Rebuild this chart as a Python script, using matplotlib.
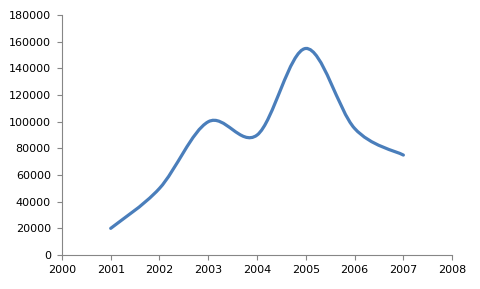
import matplotlib.pyplot as plt
from matplotlib.path import Path
from matplotlib.patches import PathPatch

years = [2001, 2002, 2003, 2004, 2005, 2006, 2007]
values = [20000, 50000, 100000, 90000, 155000, 95000, 75000]

fig = plt.figure(figsize=(4.8, 2.89), dpi=100)
ax = fig.add_axes([0.129, 0.1176, 0.813, 0.830])

ax.set_xlim(2000, 2008)
ax.set_ylim(0, 180000)
ax.set_xticks(range(2000, 2009))
ax.set_yticks(range(0, 180001, 20000))

# smoothed line like Excel: cubic bezier through the points
pts = list(zip(years, values))
verts = [pts[0]]
codes = [Path.MOVETO]
n = len(pts)
for i in range(n - 1):
    p0 = pts[i - 1] if i > 0 else pts[i]
    p1 = pts[i]
    p2 = pts[i + 1]
    p3 = pts[i + 2] if i + 2 < n else pts[i + 1]
    c1 = (p1[0] + (p2[0] - p0[0]) / 6, p1[1] + (p2[1] - p0[1]) / 6)
    c2 = (p2[0] - (p3[0] - p1[0]) / 6, p2[1] - (p3[1] - p1[1]) / 6)
    verts += [c1, c2, p2]
    codes += [Path.CURVE4] * 3
ax.add_patch(PathPatch(Path(verts, codes), facecolor='none',
                       edgecolor='#4a7ebb', lw=2.3, capstyle='round'))

for s in ['top', 'right']:
    ax.spines[s].set_visible(False)
for s in ['left', 'bottom']:
    ax.spines[s].set_color('#868686')
    ax.spines[s].set_linewidth(0.8)
ax.tick_params(colors='#868686', length=3.5, width=0.8, labelcolor='black',
               labelsize=8)
ax.tick_params(axis='y', pad=4.5)
ax.tick_params(axis='x', pad=4)

fig.savefig('out.png', dpi=100)
